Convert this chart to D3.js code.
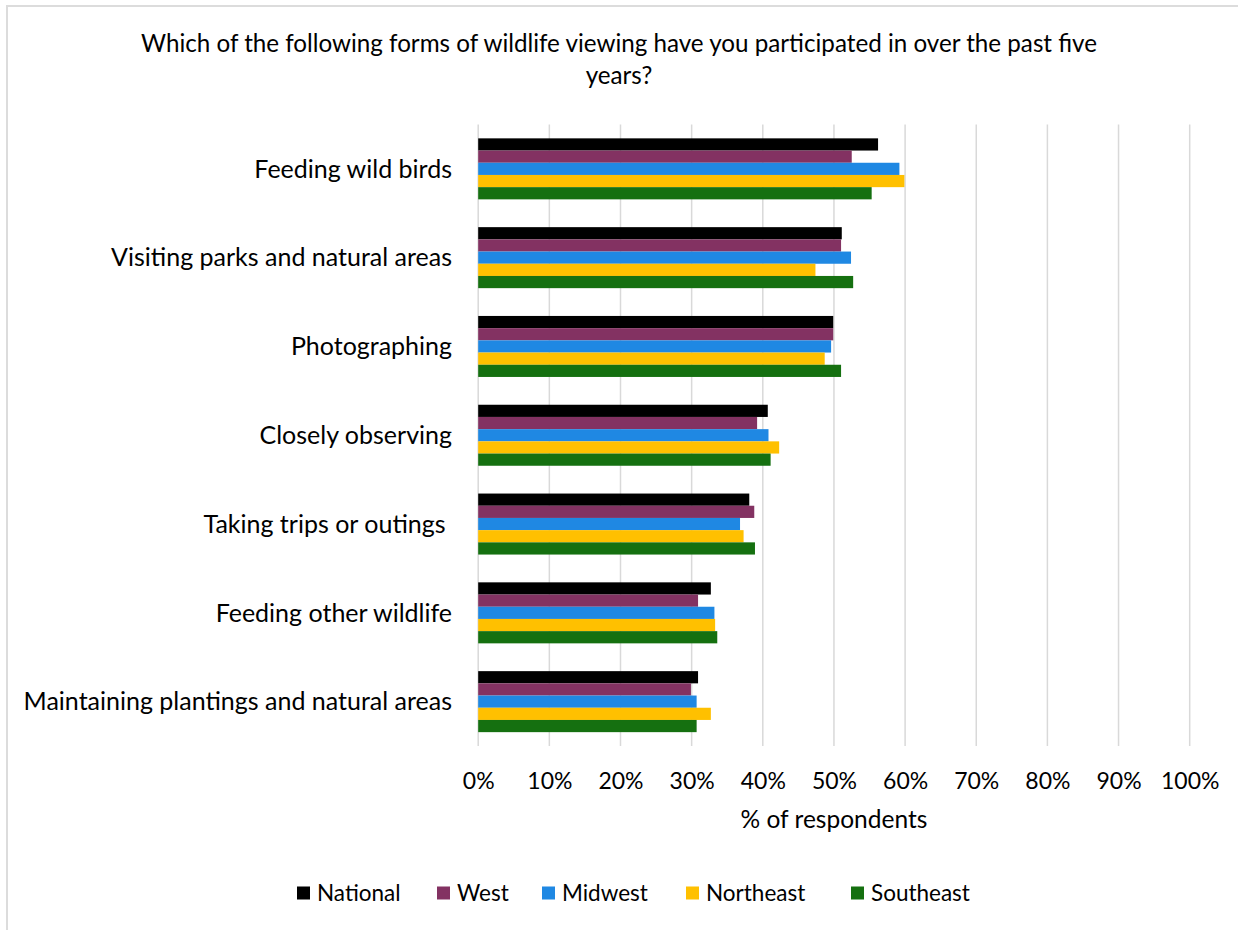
<!DOCTYPE html>
<html>
<head>
<meta charset="utf-8">
<script src="https://cdn.jsdelivr.net/npm/d3@7/dist/d3.min.js"></script>
<style>
  html, body { margin: 0; padding: 0; background: #fff; }
  svg { display: block; font-family: Lato, "Open Sans", sans-serif; }
  text { white-space: pre; }
</style>
</head>
<body>
<svg id="chart" width="1238" height="930"></svg>
<script>
// Survey activities (top to bottom) and regions (top to bottom within each group)
const categories = [
  "Feeding wild birds",
  "Visiting parks and natural areas",
  "Photographing",
  "Closely observing",
  "Taking trips or outings ",
  "Feeding other wildlife",
  "Maintaining plantings and natural areas"
];
const seriesNames = ["National", "West", "Midwest", "Northeast", "Southeast"];
const seriesColors = ["#000000", "#833262", "#1f88e3", "#ffc000", "#157010"];

// Percent of respondents, one array per region, in category order
const national  = [56.2, 51.1, 49.9, 40.7, 38.1, 32.7, 30.9];
const west      = [52.5, 51.0, 49.9, 39.2, 38.8, 30.9, 29.9];
const midwest   = [59.2, 52.4, 49.6, 40.8, 36.8, 33.2, 30.7];
const northeast = [59.9, 47.4, 48.7, 42.3, 37.3, 33.3, 32.7];
const southeast = [55.3, 52.7, 51.0, 41.1, 38.9, 33.6, 30.7];
const seriesValues = [national, west, midwest, northeast, southeast];

const xTicks = [0, 10, 20, 30, 40, 50, 60, 70, 80, 90, 100];
const titleLines = [
  "Which of the following forms of wildlife viewing have you participated in over the past five",
  "years?"
];
const xAxisTitle = "% of respondents";

const svg = d3.select("#chart");

// Chart-area frame
svg.append("rect")
  .attr("x", 7).attr("y", 6)
  .attr("width", 1400).attr("height", 1000)
  .attr("fill", "none").attr("stroke", "#dcdcdc").attr("stroke-width", 2);

const plot = { left: 478.2, right: 1189.7, top: 124.5, bottom: 746 };

const x = d3.scaleLinear().domain([0, 100]).range([plot.left, plot.right]);
const y = d3.scaleBand().domain(categories)
  .range([plot.top, plot.bottom])
  .paddingInner(0.313).paddingOuter(0.156);
const ySub = d3.scaleBand().domain(seriesNames).range([0, y.bandwidth()]);

// Vertical gridlines
svg.append("g")
  .selectAll("line")
  .data(xTicks)
  .join("line")
  .attr("x1", d => x(d)).attr("x2", d => x(d))
  .attr("y1", plot.top).attr("y2", plot.bottom)
  .attr("stroke", "#d9d9d9").attr("stroke-width", 1.5);

// Bars
const groups = svg.append("g")
  .selectAll("g")
  .data(categories)
  .join("g")
  .attr("transform", d => `translate(0,${y(d)})`);

groups.selectAll("rect")
  .data((c, ci) => seriesNames.map((s, si) => ({ s, si, v: seriesValues[si][ci] })))
  .join("rect")
  .attr("x", x(0))
  .attr("y", d => ySub(d.s))
  .attr("width", d => x(d.v) - x(0))
  .attr("height", ySub.bandwidth())
  .attr("fill", d => seriesColors[d.si]);

// Category labels
svg.append("g")
  .selectAll("text")
  .data(categories)
  .join("text")
  .attr("x", 452)
  .attr("y", d => y(d) + y.bandwidth() / 2)
  .attr("dy", "0.35em")
  .attr("text-anchor", "end")
  .attr("font-size", 25)
  .attr("fill", "#000")
  .text(d => d);

// X tick labels
const xAxis = d3.axisBottom(x).tickValues(xTicks).tickFormat(d => d + "%").tickSize(0).tickPadding(0);
const axisG = svg.append("g")
  .attr("transform", `translate(0,${plot.bottom})`)
  .call(xAxis);
axisG.select(".domain").remove();
axisG.selectAll("text")
  .attr("y", 43).attr("dy", null)
  .attr("font-size", 23)
  .attr("font-family", "Lato, 'Open Sans', sans-serif")
  .attr("fill", "#000");

// Axis title
svg.append("text")
  .attr("x", (plot.left + plot.right) / 2)
  .attr("y", 828)
  .attr("text-anchor", "middle")
  .attr("font-size", 24.5)
  .text(xAxisTitle);

// Title
svg.append("g")
  .selectAll("text")
  .data(titleLines)
  .join("text")
  .attr("x", 619)
  .attr("y", (d, i) => 52 + i * 32)
  .attr("text-anchor", "middle")
  .attr("font-size", 24.2)
  .text(d => d);

// Legend
const legendX = [297, 437, 542, 686, 851];
const legend = svg.append("g")
  .selectAll("g")
  .data(seriesNames)
  .join("g")
  .attr("transform", (d, i) => `translate(${legendX[i]},893)`);
legend.append("rect")
  .attr("x", 0).attr("y", -6.5)
  .attr("width", 13).attr("height", 13)
  .attr("fill", (d, i) => seriesColors[i]);
legend.append("text")
  .attr("x", 20).attr("y", 0)
  .attr("dy", "0.35em")
  .attr("font-size", 22.5)
  .text(d => d);
</script>
</body>
</html>
